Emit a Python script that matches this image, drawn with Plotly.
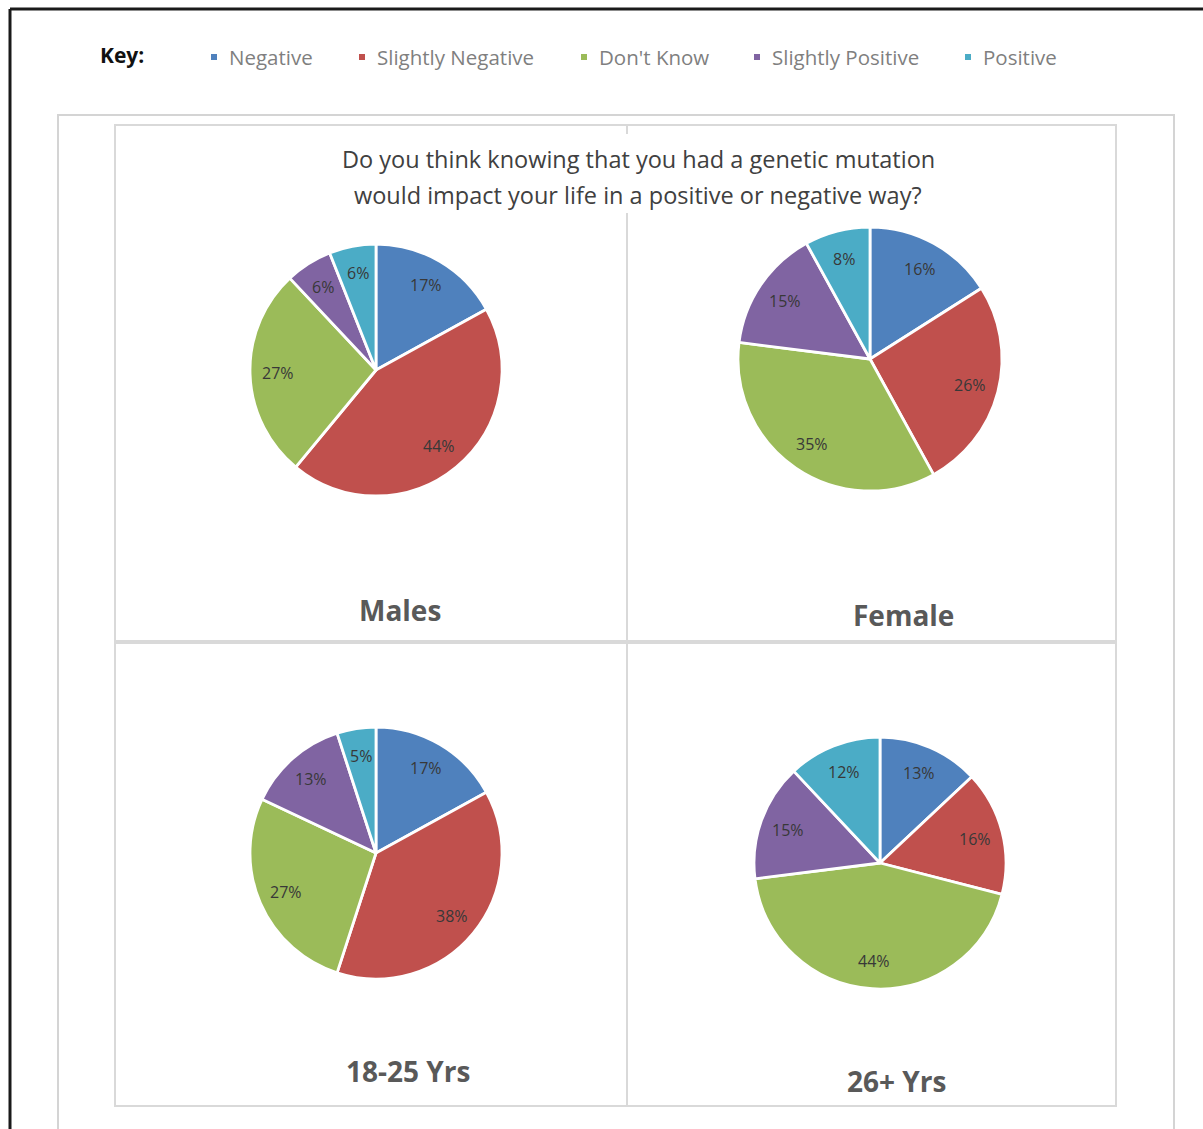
import math
import plotly.graph_objects as go

W, H = 1203, 1129

# Response categories and colours
categories = ["Negative", "Slightly Negative", "Don't Know", "Slightly Positive", "Positive"]
colors = ["#4F81BD", "#C0504D", "#9BBB59", "#8064A2", "#4BACC6"]

# Percentages per group
males = [17, 44, 27, 6, 6]
female = [16, 26, 35, 15, 8]
age_18_25 = [17, 38, 27, 13, 5]
age_26_plus = [13, 16, 44, 15, 12]

group_names = ["Males", "Female", "18-25 Yrs", "26+ Yrs"]
group_values = [males, female, age_18_25, age_26_plus]

question_lines = ["Do you think knowing that you had a genetic mutation",
                  "would impact your life in a positive or negative way?"]

# Layout in pixels: pie centre (x, y), radius, group title position
pie_layout = [
    dict(cx=376, cy=370, r=126, tx=400, ty=610),
    dict(cx=870, cy=359, r=132, tx=903, ty=615),
    dict(cx=376, cy=853, r=126, tx=408, ty=1071),
    dict(cx=880, cy=863, r=126, tx=896, ty=1081),
]

FONT = "'Open Sans', Lato, sans-serif"


def px(x):
    return x / W


def py(y):
    return 1 - y / H


def text_at(x, y, text, size, color, xanchor="center", **kw):
    return dict(x=px(x), y=py(y), xref="paper", yref="paper",
                xanchor=xanchor, yanchor="middle", text=text, showarrow=False,
                font=dict(family=FONT, size=size, color=color), **kw)


fig = go.Figure()
annotations = []
shapes = []

for name, vals, lay in zip(group_names, group_values, pie_layout):
    cx, cy, r = lay["cx"], lay["cy"], lay["r"]
    fig.add_trace(go.Pie(
        labels=categories,
        values=vals,
        sort=False,
        direction="clockwise",
        rotation=0,
        marker=dict(colors=colors, line=dict(color="white", width=2.8)),
        textinfo="none",
        showlegend=False,
        name=name,
        hovertemplate="%{label}: %{value}%<extra>" + name + "</extra>",
        domain=dict(x=[px(cx - r), px(cx + r)], y=[py(cy + r), py(cy - r)]),
    ))
    # value labels along each slice's mid angle
    total = sum(vals)
    cum = 0
    for v in vals:
        mid = (cum + v / 2) / total * 2 * math.pi
        cum += v
        lx = cx + 0.78 * r * math.sin(mid)
        ly = cy - 0.78 * r * math.cos(mid)
        annotations.append(text_at(lx, ly, f"{v}%", 16, "#383838"))
    annotations.append(text_at(lay["tx"], lay["ty"], f"<b>{name}</b>", 28, "#595959"))

# Question title spanning the top two panels
for line, ly in zip(question_lines, [159, 195]):
    annotations.append(text_at(638, ly, line, 23.5, "#404040"))

# Key row
annotations.append(text_at(98, 55, "<b>Key:</b>", 21, "#111111", xanchor="left"))
key_x = [214, 362, 584, 757, 968]
for cat, col, kx in zip(categories, colors, key_x):
    shapes.append(dict(
        type="rect", xref="paper", yref="paper",
        x0=px(kx - 3), x1=px(kx + 3), y0=py(60), y1=py(54),
        fillcolor=col, line=dict(width=0),
    ))
    annotations.append(text_at(kx + 13, 57, cat, 20.5, "#7f7f7f", xanchor="left"))

# Outer frame (black) and inner panel frames (grey)
frame = "#1a1a1a"
shapes.append(dict(type="line", xref="paper", yref="paper",
                   x0=px(10), x1=px(W + 5), y0=py(9), y1=py(9),
                   line=dict(color=frame, width=3), layer="below"))
shapes.append(dict(type="line", xref="paper", yref="paper",
                   x0=px(10), x1=px(10), y0=py(9), y1=py(H + 5),
                   line=dict(color=frame, width=3), layer="below"))
shapes.append(dict(type="rect", xref="paper", yref="paper",
                   x0=px(58), x1=px(1174), y0=py(115), y1=py(H + 10),
                   line=dict(color="#d4d4d4", width=2), layer="below"))
for x0, x1, y0, y1 in [(115, 627, 125, 641), (627, 1116, 125, 641),
                       (115, 627, 643, 1106), (627, 1116, 643, 1106)]:
    shapes.append(dict(type="rect", xref="paper", yref="paper",
                       x0=px(x0), x1=px(x1), y0=py(y0), y1=py(y1),
                       line=dict(color="#d9d9d9", width=2), layer="below"))
# blank strip behind the question so the panel divider stops there
shapes.append(dict(type="rect", xref="paper", yref="paper",
                   x0=px(600), x1=px(656), y0=py(134), y1=py(213),
                   fillcolor="white", line=dict(width=0), layer="below"))

fig.update_layout(
    width=W, height=H, autosize=False,
    margin=dict(l=0, r=0, t=0, b=0),
    paper_bgcolor="white", plot_bgcolor="white",
    annotations=annotations, shapes=shapes,
)

fig.write_html("out.html")
